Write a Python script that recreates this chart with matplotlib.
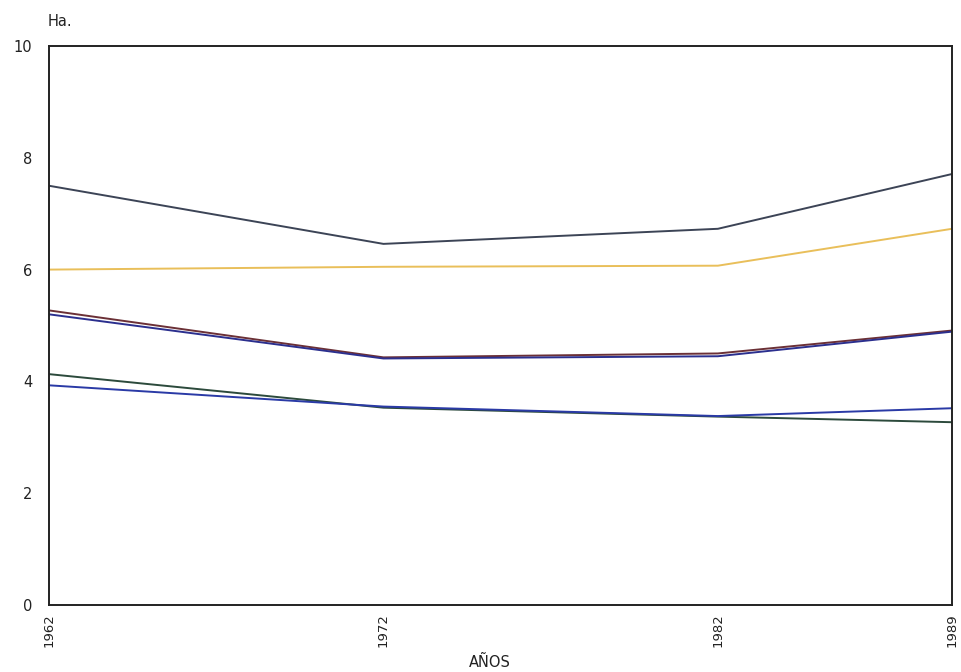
import matplotlib
matplotlib.use("Agg")
import matplotlib.pyplot as plt

plt.rcParams["font.family"] = ["DejaVu Sans"]

years = [1962, 1972, 1982, 1989]

serie_gris = [7.50, 6.46, 6.73, 7.71]
serie_amarilla = [6.00, 6.05, 6.07, 6.73]
serie_granate = [5.27, 4.43, 4.50, 4.91]
serie_azul = [5.20, 4.41, 4.45, 4.89]
serie_verde = [4.13, 3.53, 3.37, 3.27]
serie_azul2 = [3.93, 3.55, 3.38, 3.52]

series = [
    (serie_gris, "#3c4456"),
    (serie_amarilla, "#e9bf5a"),
    (serie_granate, "#6b3036"),
    (serie_azul, "#2b2f8e"),
    (serie_verde, "#2c4a3c"),
    (serie_azul2, "#2a3aa6"),
]

fig = plt.figure(figsize=(9.61, 6.72), dpi=100)
ax = fig.add_axes([49 / 961, 67 / 672, (952 - 49) / 961, (605 - 46) / 672])

for vals, col in series:
    ax.plot(years, vals, color=col, linewidth=1.4)

ax.set_xlim(years[0], years[-1])
ax.set_ylim(0, 10)
ax.set_yticks([0, 2, 4, 6, 8, 10])
ax.set_yticklabels(["0", "2", "4", "6", "8", "10"], fontsize=10.5, color="#222222")
ax.set_xticks(years)
ax.set_xticklabels([str(y) for y in years], rotation=90, fontsize=9.5, color="#222222")
ax.tick_params(axis="y", length=0, pad=12)
ax.tick_params(axis="x", length=0, pad=6)

for s in ax.spines.values():
    s.set_linewidth(1.4)
    s.set_color("#222222")

fig.text(48 / 961, 1 - 21 / 672, "Ha.", fontsize=10.5, color="#222222",
         ha="left", va="center")
fig.text(490 / 961, 1 - 662 / 672, "AÑOS", fontsize=10.5, color="#222222",
         ha="center", va="center")

fig.savefig("out.png", dpi=100, facecolor="white")
